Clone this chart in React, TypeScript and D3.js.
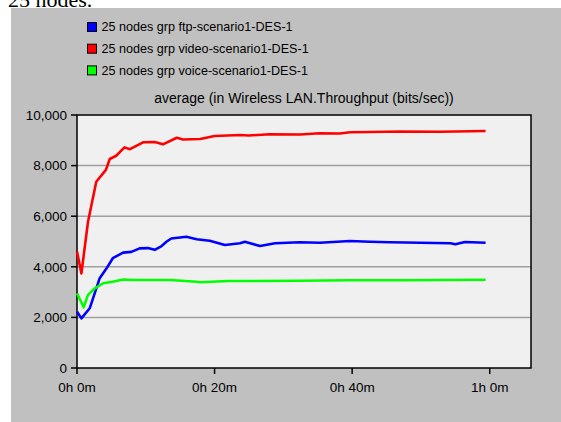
import React from "react";
import * as d3 from "d3";

const seriesNames = [
  "25 nodes grp ftp-scenario1-DES-1",
  "25 nodes grp video-scenario1-DES-1",
  "25 nodes grp voice-scenario1-DES-1",
];
const seriesColors = ["#0000ff", "#ff0000", "#00ff00"];

const ftpTimes = [0, 0.64, 1.85, 3.3, 4.3, 5.2, 6.7, 7.9, 9.1, 10.3, 11.3, 12.3, 13, 13.7, 15.9, 17.4, 19.3, 21.5, 23.7, 24.4, 26.6, 28.8, 32.4, 35.3, 39.7, 42.6, 45.5, 49.9, 54.3, 55, 56.4, 59.4];
const ftpValues = [2230, 1960, 2360, 3550, 3940, 4340, 4560, 4590, 4730, 4740, 4670, 4820, 4990, 5120, 5190, 5090, 5030, 4860, 4930, 4990, 4820, 4930, 4970, 4950, 5020, 4990, 4970, 4950, 4930, 4890, 4980, 4950];

const videoTimes = [0, 0.64, 1.6, 2.8, 4.2, 4.76, 5.7, 6.9, 7.7, 9.6, 11.3, 12.5, 14.5, 15.4, 17.9, 20, 23.7, 25, 28, 32.4, 35.3, 38.2, 39.7, 42.6, 47, 52.8, 59.4];
const videoValues = [4600, 3740, 5780, 7360, 7830, 8260, 8390, 8720, 8650, 8920, 8930, 8840, 9100, 9030, 9050, 9170, 9210, 9190, 9240, 9230, 9280, 9270, 9320, 9330, 9350, 9340, 9370];

const voiceTimes = [0, 0.97, 1.6, 2.6, 3.8, 5.2, 6.7, 8.6, 13.5, 17.4, 17.9, 22, 25, 32.4, 39.7, 47, 59.4];
const voiceValues = [2950, 2400, 2890, 3150, 3350, 3410, 3500, 3480, 3480, 3410, 3390, 3440, 3440, 3450, 3470, 3470, 3490];

const yTicks = [0, 2000, 4000, 6000, 8000, 10000];
const xTicks = [0, 20, 40, 60];
const xTickLabels = ["0h 0m", "0h 20m", "0h 40m", "1h 0m"];
const chartTitle = "average (in Wireless LAN.Throughput (bits/sec))";
const headingText = "25 nodes.";

export default function App() {
  const W = 561, H = 422;
  const left = 77, right = 531, top = 115, bottom = 368;
  const x = d3.scaleLinear().domain([0, 66]).range([left, right]);
  const y = d3.scaleLinear().domain([0, 10000]).range([bottom, top]);
  const fmt = d3.format(",");
  const font = "Arial, 'Liberation Sans', sans-serif";

  const series = [
    { t: ftpTimes, v: ftpValues },
    { t: videoTimes, v: videoValues },
    { t: voiceTimes, v: voiceValues },
  ];
  const line = (t: number[], v: number[]) =>
    d3.line<number>().x((_, i) => x(t[i])).y((d) => y(d))(v) || "";

  return (
    <svg width={W} height={H} style={{ position: "absolute", left: 0, top: 0, background: "#fff" }}>
      <text x={8} y={7} fontFamily="'Times New Roman', 'Liberation Serif', serif" fontSize={22}>{headingText}</text>
      <rect x={11} y={8} width={W - 11} height={H - 8} fill="#c0c0c0" />
      {seriesNames.map((n, i) => (
        <g key={n}>
          <rect x={87.5} y={22.5 + i * 21.7} width={9} height={9} fill={seriesColors[i]} stroke="#000" strokeWidth={1} />
          <text x={101.5} y={27 + i * 21.7} dy="0.35em" fontFamily={font} fontSize={12.6} fill="#000">{n}</text>
        </g>
      ))}
      <text x={304} y={103} textAnchor="middle" fontFamily={font} fontSize={14} fill="#000">{chartTitle}</text>
      <rect x={left} y={top} width={right - left} height={bottom - top} fill="#f0f0f0" />
      {yTicks.slice(1, -1).map((t) => (
        <line key={t} x1={left} x2={right} y1={y(t)} y2={y(t)} stroke="#a0a0a0" strokeWidth={1.5} />
      ))}
      <rect x={left} y={top} width={right - left} height={bottom - top} fill="none" stroke="#000" strokeWidth={1.5} />
      {yTicks.map((t) => (
        <g key={t}>
          <line x1={left - 6} x2={left} y1={y(t)} y2={y(t)} stroke="#000" strokeWidth={1.5} />
          <text x={left - 10} y={y(t)} dy="0.35em" textAnchor="end" fontFamily={font} fontSize={13.5} fill="#000">{fmt(t)}</text>
        </g>
      ))}
      {xTicks.map((t, i) => (
        <g key={t}>
          <line x1={x(t)} x2={x(t)} y1={bottom} y2={bottom + 6} stroke="#000" strokeWidth={1.5} />
          <text x={x(t)} y={387} dy="0.35em" textAnchor="middle" fontFamily={font} fontSize={13.5} fill="#000">{xTickLabels[i]}</text>
        </g>
      ))}
      {series.map((s, i) => (
        <path key={i} d={line(s.t, s.v)} fill="none" stroke={seriesColors[i]} strokeWidth={2.6} strokeLinejoin="round" />
      ))}
    </svg>
  );
}
